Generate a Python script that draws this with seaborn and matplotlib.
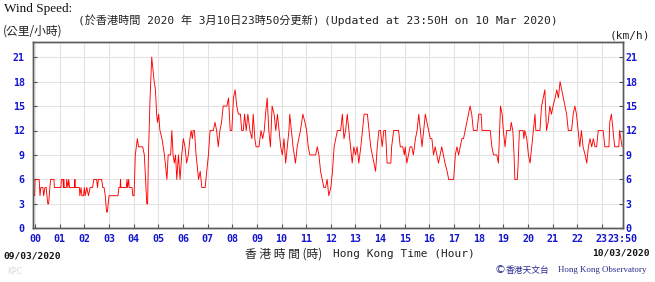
import matplotlib
matplotlib.use("Agg")
import matplotlib.pyplot as plt
import seaborn as sns
import pandas as pd
import numpy as np

# ---- data: minutes since 00:00 on 09/03/2020, wind speed (km/h) ----
minutes = [
    -5, -4, -1, 0, 10, 12, 14, 19, 21, 24, 27, 29, 31, 33, 36, 38, 46, 47, 63, 64,
    68, 69, 70, 71, 76, 77, 80, 82, 84, 96, 97, 98, 108, 109, 112, 114, 118, 120, 122, 126,
    130, 134, 140, 143, 150, 152, 154, 162, 165, 168, 171, 174, 176, 180, 202, 204, 207, 208, 209, 222,
    224, 225, 228, 229, 236, 238, 241, 244, 249, 252, 262, 266, 270, 272, 274, 276, 280, 284,
    286, 290, 293, 296, 298, 301, 304, 309, 315, 321, 324, 330, 333, 336, 339, 342, 345, 349, 353, 357,
    361, 365, 369, 373, 377, 380, 383, 385, 388, 392, 398, 402, 406, 414, 418, 422, 426, 434, 438, 442,
    446, 450, 454, 458, 467, 471, 475, 479, 483, 487, 491, 495, 500, 503, 507, 510, 514, 518, 523, 528,
    531, 535, 538, 545, 550, 554, 558,
    561, 565, 569, 573, 577, 582, 586, 590, 594, 598, 602, 606, 610, 614, 618, 620, 624, 628, 634, 638,
    642, 646, 652, 657, 661, 665, 669, 683, 687, 691, 695, 699, 703, 707, 711, 715, 720, 724, 728, 732,
    736, 744, 748, 752, 756, 760, 764, 768, 772, 776, 780, 784, 788, 793, 797, 801, 809, 813, 817, 821,
    825, 829, 833, 837, 841, 845, 849,
    853, 855, 857, 866, 868, 873, 885, 887, 889, 895, 899, 901, 905, 909, 913, 917, 921, 926, 930, 934,
    938, 942, 946, 950, 954, 958, 962, 966, 970, 974, 978, 982, 986, 990, 994, 998, 1003, 1007, 1019, 1023,
    1027, 1031, 1035, 1039, 1043, 1047, 1051, 1055, 1059, 1063, 1067, 1076, 1080, 1086, 1088, 1108, 1112, 1116, 1124, 1128,
    1133, 1137, 1140, 1144, 1148, 1157, 1159, 1163, 1166, 1168, 1174, 1176, 1179, 1188, 1190, 1192, 1197, 1201, 1205, 1209,
    1213, 1217, 1219, 1229, 1233, 1237, 1241, 1245, 1249, 1253, 1257, 1261, 1266, 1270, 1274, 1278, 1282, 1286, 1290, 1294,
    1298, 1306, 1310, 1314, 1318, 1322, 1326, 1330, 1334, 1339, 1343, 1347, 1351, 1355, 1359, 1363, 1367, 1371, 1383, 1387,
    1397, 1399, 1403, 1407, 1411, 1421, 1423, 1426, 1429,
]
speed_kmh = [
    8, 4, 4, 6, 6, 4, 5, 5, 4, 5, 5, 4, 3, 3, 5, 6, 6, 5, 5, 6,
    6, 5, 6, 5, 5, 6, 5, 6, 5, 5, 6, 5, 5, 4, 5, 4, 4, 5, 4, 5,
    4, 5, 5, 6, 6, 5, 6, 6, 5, 5, 4, 2, 2, 4, 4, 5, 5, 6, 5, 5,
    6, 5, 6, 5, 5, 4, 4, 9, 11, 10, 10, 9, 5, 3, 3, 9, 16, 21,
    20, 18, 17, 14, 13, 14, 12, 11, 9, 6, 9, 9, 12, 9, 8, 9, 6, 9, 6, 9,
    11, 10, 8, 9, 11, 12, 11, 12, 12, 9, 6, 7, 5, 5, 7, 9, 12, 12, 13, 12,
    10, 12, 13, 15, 15, 16, 12, 12, 16, 17, 15, 14, 14, 12, 12, 14, 12, 14, 12, 11,
    14, 11, 10, 10, 12, 11, 12,
    14, 16, 12, 10, 15, 14, 12, 14, 12, 10, 9, 11, 8, 10, 12, 14, 12, 10, 8, 10,
    11, 12, 14, 13, 12, 10, 9, 9, 10, 9, 7, 6, 5, 5, 6, 4, 5, 7, 10, 11,
    12, 12, 14, 11, 12, 14, 12, 10, 8, 10, 9, 10, 8, 10, 12, 14, 14, 12, 10, 9,
    8, 7, 10, 12, 12, 10, 12,
    12, 10, 8, 8, 10, 12, 12, 11, 10, 10, 9, 10, 8, 9, 10, 10, 9, 11, 12, 14,
    12, 10, 12, 14, 13, 12, 11, 11, 9, 10, 9, 8, 9, 10, 9, 8, 7, 6, 6, 9,
    10, 9, 10, 11, 11, 12, 13, 14, 15, 14, 12, 12, 14, 14, 12, 12, 10, 9, 9, 8,
    15, 14, 12, 10, 12, 12, 13, 12, 9, 6, 6, 8, 12, 12, 11, 12, 11, 9, 8, 10,
    12, 14, 12, 12, 15, 16, 17, 12, 13, 15, 14, 15, 16, 17, 16, 18, 17, 16, 15, 14,
    12, 12, 14, 15, 14, 12, 10, 12, 10, 9, 8, 10, 11, 10, 11, 10, 10, 12, 12, 10,
    10, 13, 14, 12, 10, 10, 12, 11, 10,
]
hour_ticks = list(range(24)) + [23 + 50 / 60]
hour_labels = ["%02d" % h for h in range(24)] + ["23:50"]
speed_ticks = [0, 3, 6, 9, 12, 15, 18, 21]
speed_labels = [str(v) for v in speed_ticks]

sns.set_theme(style="white")
plt.rcParams["font.family"] = ["DejaVu Sans", "Noto Sans CJK TC"]

W, H = 655, 282
fig = plt.figure(figsize=(W / 100, H / 100), dpi=100)
fig.patch.set_facecolor("white")

L, R, T, B = 33, 622.5, 42, 228.3
ax = fig.add_axes([L / W, 1 - B / H, (R - L) / W, (B - T) / H])

df = pd.DataFrame({"hour": np.array(minutes) / 60.0, "speed": speed_kmh})
sns.lineplot(data=df, x="hour", y="speed", ax=ax, color="#ff0000",
             linewidth=0.65, estimator=None, sort=False)

ax.set_xlim(-5 / 60, 23 + 50 / 60)
ax.set_ylim(0, (B - T) / 8.15)
ax.set_xlabel("")
ax.set_ylabel("")
ax.set_facecolor("white")

blue = "#1515d0"
mono_bold = dict(family="DejaVu Sans Mono", weight="bold", size=7.2, color=blue)

ax.set_xticks(hour_ticks)
ax.set_xticklabels(hour_labels, **mono_bold)
ax.set_yticks(speed_ticks)
ax.set_yticklabels(speed_labels, **mono_bold)
ax.grid(True, color="#e3e3e3", linewidth=0.8)
ax.set_axisbelow(True)
ax.tick_params(axis="x", direction="in", length=3, width=0.8, color="#555555", pad=4, bottom=True)
ax.tick_params(axis="y", direction="in", length=3, width=0.8, color="#555555", pad=6, left=True)

ax2 = ax.twinx()
ax2.set_ylim(ax.get_ylim())
ax2.set_yticks(speed_ticks)
ax2.set_yticklabels(speed_labels, **mono_bold)
ax2.tick_params(axis="y", direction="in", length=3, width=0.8, color="#555555", pad=2, right=True)
ax2.grid(False)

for a in (ax, ax2):
    for s in a.spines.values():
        s.set_color("#5a5a5a")
        s.set_linewidth(1.0)

def px(x, y):
    return x / W, 1 - y / H

# header texts
fig.text(*px(4, 9), "Wind Speed:", family="Liberation Serif", size=9.5, color="#111111", va="center", ha="left")
fig.text(*px(3, 31), "(公里/小時)", family=["Noto Sans CJK TC"], size=8.5, color="#222222", va="center", ha="left")
fig.text(*px(320, 21), "(於香港時間 2020 年 3月10日23時50分更新)", family=["DejaVu Sans Mono", "Noto Sans CJK TC"],
         size=8, color="#222222", va="center", ha="right")
fig.text(*px(324, 21), "(Updated at 23:50H on 10 Mar 2020)", family="DejaVu Sans Mono",
         size=8.2, color="#222222", va="center", ha="left")
fig.text(*px(650, 35), "(km/h)", family="DejaVu Sans Mono", size=8, color="#222222", va="center", ha="right")

# footer texts
fig.text(*px(3, 256), "09/03/2020", family="DejaVu Sans Mono", weight="bold", size=6.8, color="#111111", va="center", ha="left")
fig.text(*px(650, 253), "10/03/2020", family="DejaVu Sans Mono", weight="bold", size=6.8, color="#111111", va="center", ha="right")
fig.text(*px(322, 254), "香 港 時 間 (時)", family=["Noto Sans CJK TC"], size=8.5, color="#222222", va="center", ha="right")
fig.text(*px(333, 254), "Hong Kong Time (Hour)", family="DejaVu Sans Mono", size=8, color="#222222", va="center", ha="left")
fig.text(*px(7, 272), "KPC", family="DejaVu Sans", size=5.5, color="#d8d8d8", va="center", ha="left")
fig.text(*px(494, 270), "©", family="DejaVu Sans", size=8, color="#2a2a90", va="center", ha="left")
fig.text(*px(506, 270), "香港天文台", family=["Noto Sans CJK TC"], size=6.3, color="#2a2a90", va="center", ha="left")
fig.text(*px(647, 270), "Hong Kong Observatory", family="Liberation Serif", size=6.4, color="#2a2a90", va="center", ha="right")

fig.savefig("out.png", dpi=100, facecolor="white")
